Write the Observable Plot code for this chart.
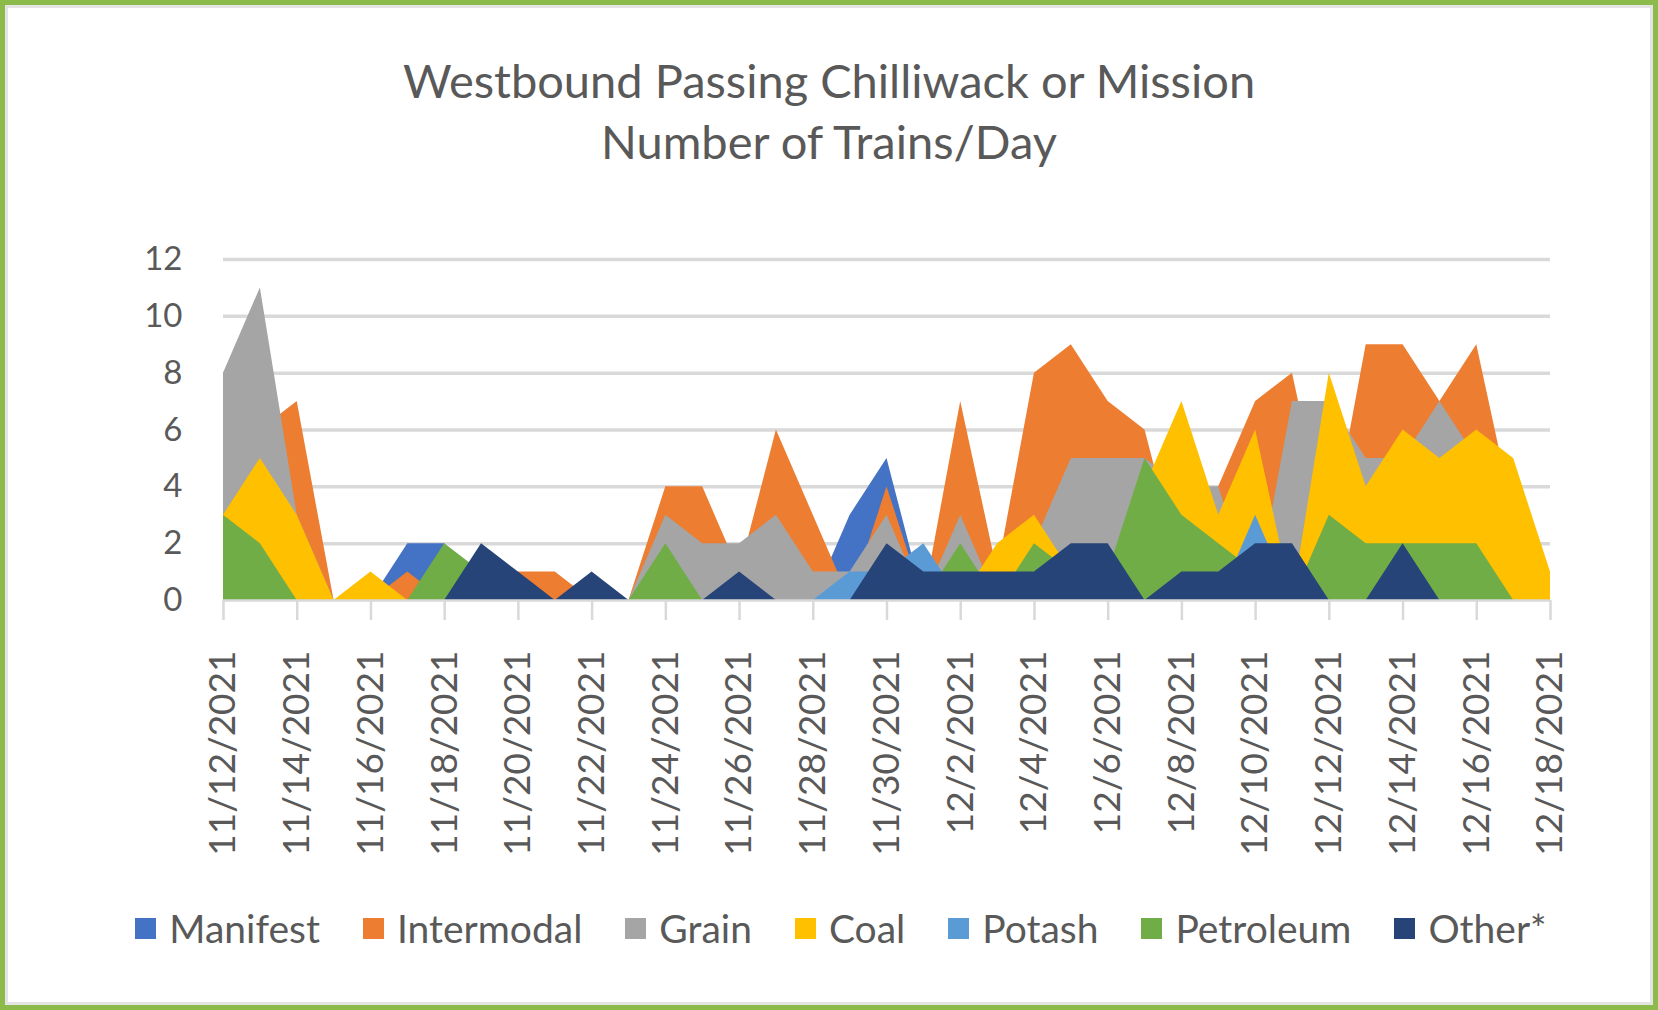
<!DOCTYPE html>
<html>
<head>
<meta charset="utf-8">
<script src="https://cdn.jsdelivr.net/npm/d3@7"></script>
<script src="https://cdn.jsdelivr.net/npm/@observablehq/plot@0.6"></script>
<style>
  html, body { margin:0; padding:0; background:#fff; }
  body { width:1658px; height:1010px; position:relative; overflow:hidden; font-family: Lato, "Open Sans", sans-serif; color:#595959; }
  #frame { position:absolute; left:0; top:0; width:1658px; height:1010px; box-sizing:border-box; border:5px solid #8cbb4c; box-shadow: inset 0 0 0 3px #e4e4e4; pointer-events:none; z-index:5; }
  #title { position:absolute; left:0; top:50px; width:1658px; text-align:center; font-size:47px; line-height:61px; color:#595959; }
  #chart { position:absolute; left:0; top:200px; }
  #legend { position:absolute; left:12px; top:905px; width:1658px; display:flex; justify-content:center; align-items:center; gap:43px; font-size:39px; color:#595959; }
  .item { display:flex; align-items:center; gap:13px; }
  .sw { width:21px; height:21px; display:inline-block; }
</style>
</head>
<body>
<div id="title"><div>Westbound Passing Chilliwack or Mission</div><div>Number of Trains/Day</div></div>
<div id="chart"></div>
<div id="legend"></div>
<div id="frame"></div>
<script>
// ---- data ----
const dates = ["11/12/2021","11/13/2021","11/14/2021","11/15/2021","11/16/2021","11/17/2021","11/18/2021","11/19/2021","11/20/2021","11/21/2021",
               "11/22/2021","11/23/2021","11/24/2021","11/25/2021","11/26/2021","11/27/2021","11/28/2021","11/29/2021","11/30/2021","12/1/2021",
               "12/2/2021","12/3/2021","12/4/2021","12/5/2021","12/6/2021","12/7/2021","12/8/2021","12/9/2021","12/10/2021","12/11/2021",
               "12/12/2021","12/13/2021","12/14/2021","12/15/2021","12/16/2021","12/17/2021","12/18/2021"];
const manifest   = [0,0,0,0,0,2,2,0,0,0, 0,0,0,0,0,0,0,3,5,0, 0,0,0,0,0,0,0,0,0,0, 0,0,0,0,0,0,0];
const intermodal = [5,6,7,0,0,1,0,0,1,1, 0,0,4,4,1,6,3,0,4,0, 7,1,8,9,7,6,1,4,7,8, 2,9,9,7,9,3,0];
const grain      = [8,11,3,0,0,0,0,0,0,0, 0,0,3,2,2,3,1,1,3,0, 3,0,2,5,5,5,4,4,0,7, 7,5,5,7,5,4,0];
const coal       = [3,5,3,0,1,0,0,0,0,0, 0,0,0,0,0,0,0,0,0,0, 0,2,3,1,0,4,7,3,6,0, 8,4,6,5,6,5,1];
const potash     = [0,0,0,0,0,0,0,0,0,0, 0,0,0,0,0,0,0,1,1,2, 0,0,0,0,0,0,0,0,3,0, 0,0,0,0,0,0,0];
const petroleum  = [3,2,0,0,0,0,2,1,0,0, 0,0,2,0,0,0,0,0,0,0, 2,0,2,1,1,5,3,2,1,0, 3,2,2,2,2,0,0];
const other      = [0,0,0,0,0,0,0,2,1,0, 1,0,0,0,1,0,0,0,2,1, 1,1,1,2,2,0,1,1,2,2, 0,0,2,0,0,0,0];
const seriesNames = ["Manifest","Intermodal","Grain","Coal","Potash","Petroleum","Other*"];
const seriesColors = ["#4472c4","#ed7d31","#a5a5a5","#ffc000","#5b9bd5","#70ad47","#264478"];
const yTicks = [0,2,4,6,8,10,12];
const xTickLabels = ["11/12/2021","11/14/2021","11/16/2021","11/18/2021","11/20/2021","11/22/2021","11/24/2021","11/26/2021","11/28/2021","11/30/2021",
                     "12/2/2021","12/4/2021","12/6/2021","12/8/2021","12/10/2021","12/12/2021","12/14/2021","12/16/2021","12/18/2021"];

// ---- build ----
const parse = d3.utcParse("%m/%d/%Y");
const X = dates.map(parse);
const seriesValues = [manifest, intermodal, grain, coal, potash, petroleum, other];
const fmt = d3.utcFormat("%-m/%-d/%Y");

const areaMarks = seriesValues.map((vals, i) =>
  Plot.areaY(vals.map((v, j) => ({date: X[j], value: v})), {
    x: "date", y1: 0, y2: "value", fill: seriesColors[i], curve: "linear"
  })
);

const plot = Plot.plot({
  width: 1658,
  height: 700,
  marginTop: 59,
  marginBottom: 300,
  marginLeft: 223,
  marginRight: 108,
  style: {fontFamily: "Lato, 'Open Sans', sans-serif", color: "#595959", background: "transparent"},
  x: {type: "utc", domain: [X[0], X[X.length - 1]]},
  y: {domain: [0, 12]},
  marks: [
    Plot.ruleY(yTicks.filter(d => d > 0), {stroke: "#d9d9d9", strokeWidth: 3.5}),
    ...areaMarks,
    Plot.ruleY([0], {stroke: "#d9d9d9", strokeWidth: 2.5}),
    Plot.axisY({ticks: yTicks, tickSize: 0, tickPadding: 41, fontSize: 33, label: null, fill: "#595959"}),
    Plot.axisX({ticks: xTickLabels.map(parse), tickFormat: fmt, tickSize: 20, tickPadding: 30, tickRotate: -90,
                stroke: "#d9d9d9", strokeWidth: 2.5, fontSize: 37, label: null, fill: "#595959"})
  ]
});
document.getElementById("chart").appendChild(plot);

const legend = document.getElementById("legend");
seriesNames.forEach((name, i) => {
  const item = document.createElement("div");
  item.className = "item";
  const sw = document.createElement("span");
  sw.className = "sw";
  sw.style.background = seriesColors[i];
  const t = document.createElement("span");
  t.textContent = name;
  item.appendChild(sw); item.appendChild(t);
  legend.appendChild(item);
});
</script>
</body>
</html>
